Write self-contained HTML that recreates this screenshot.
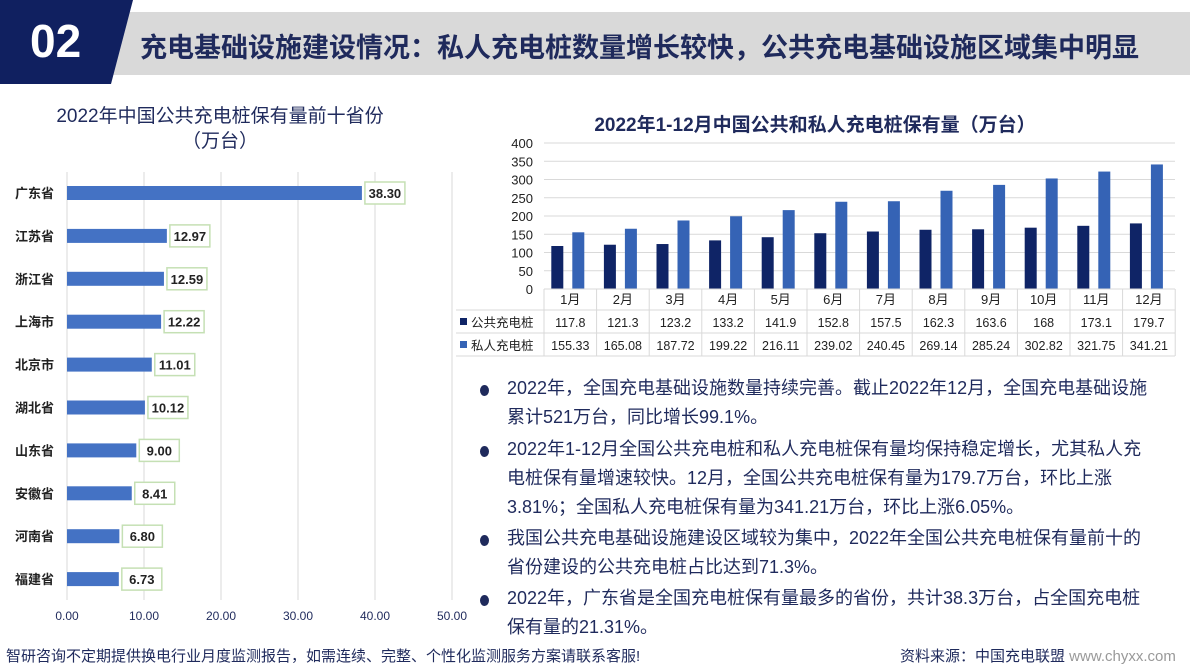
<!DOCTYPE html>
<html><head><meta charset="utf-8">
<style>
body{margin:0;width:1190px;height:669px;overflow:hidden;background:#fff;font-family:"Liberation Sans","Noto Sans CJK SC",sans-serif;position:relative}
.abs{position:absolute}
.bul{position:absolute;left:480px;font-size:18px;color:#1f2a5c;line-height:29px;width:668px}
.bul span.dot{position:absolute;left:0;top:11px;width:9px;height:11px;border-radius:50%;background:#1f2a5c}
.bul p{margin:0 0 0 27px}
</style></head><body>
<div class="abs" style="left:110px;top:12px;width:1080px;height:63px;background:#d9d9d9"></div>
<svg class="abs" style="left:0;top:0" width="140" height="85"><polygon points="0,0 133,0 111,84 0,84" fill="#102060"/></svg>
<div class="abs" style="left:30px;top:14px;font-size:46px;font-weight:bold;color:#fff">02</div>
<div class="abs" style="left:140px;top:26px;font-size:27px;font-weight:bold;color:#1f2a5c">充电基础设施建设情况：私人充电桩数量增长较快，公共充电基础设施区域集中明显</div>

<div class="abs" style="left:20px;top:104px;width:400px;text-align:center;font-size:19px;color:#1f2a5c;line-height:25px">2022年中国公共充电桩保有量前十省份<br>（万台）</div>
<svg class="abs" id="lc" style="left:0;top:0" width="470" height="640"></svg>

<div class="abs" style="left:500px;top:110px;width:630px;text-align:center;font-size:19px;font-weight:bold;color:#1f2a5c">2022年1-12月中国公共和私人充电桩保有量（万台）</div>
<svg class="abs" id="rc" style="left:0;top:0" width="1190" height="360"></svg>

<div class="bul" style="top:374px"><span class="dot"></span><p>2022年，全国充电基础设施数量持续完善。截止2022年12月，全国充电基础设施累计521万台，同比增长99.1%。</p></div>
<div class="bul" style="top:435px"><span class="dot"></span><p>2022年1-12月全国公共充电桩和私人充电桩保有量均保持稳定增长，尤其私人充电桩保有量增速较快。12月，全国公共充电桩保有量为179.7万台，环比上涨3.81%；全国私人充电桩保有量为341.21万台，环比上涨6.05%。</p></div>
<div class="bul" style="top:524px"><span class="dot"></span><p>我国公共充电基础设施建设区域较为集中，2022年全国公共充电桩保有量前十的省份建设的公共充电桩占比达到71.3%。</p></div>
<div class="bul" style="top:584px"><span class="dot"></span><p>2022年，广东省是全国充电桩保有量最多的省份，共计38.3万台，占全国充电桩保有量的21.31%。</p></div>

<div class="abs" style="left:6px;top:645px;font-size:15px;color:#1f2a5c">智研咨询不定期提供换电行业月度监测报告，如需连续、完整、个性化监测服务方案请联系客服!</div>
<div class="abs" style="left:900px;top:645px;font-size:15px;color:#1f2a5c">资料来源：中国充电联盟 <span style="color:#999">www.chyxx.com</span></div>

<script>
const provinces=["广东省","江苏省","浙江省","上海市","北京市","湖北省","山东省","安徽省","河南省","福建省"];
const provValues=[38.30,12.97,12.59,12.22,11.01,10.12,9.00,8.41,6.80,6.73];
const xTicks=[0,10,20,30,40,50];
const months=["1月","2月","3月","4月","5月","6月","7月","8月","9月","10月","11月","12月"];
const publicVals=[117.8,121.3,123.2,133.2,141.9,152.8,157.5,162.3,163.6,168,173.1,179.7];
const privateVals=[155.33,165.08,187.72,199.22,216.11,239.02,240.45,269.14,285.24,302.82,321.75,341.21];
const publicLabels=["117.8","121.3","123.2","133.2","141.9","152.8","157.5","162.3","163.6","168","173.1","179.7"];
const privateLabels=["155.33","165.08","187.72","199.22","216.11","239.02","240.45","269.14","285.24","302.82","321.75","341.21"];
const yTicks=[0,50,100,150,200,250,300,350,400];
const NS="http://www.w3.org/2000/svg";
function mk(svg,tag,a,txt){const e=document.createElementNS(NS,tag);for(const k in a)e.setAttribute(k,a[k]);if(txt!==undefined)e.textContent=txt;svg.appendChild(e);return e;}
const lc=document.getElementById('lc');
const lx=v=>67+v*7.7;
const ly=i=>193+i*42.9;
xTicks.forEach(t=>{
 const g=mk(lc,'line',{x1:lx(t),x2:lx(t),y1:172,y2:600,stroke:'#d9d9d9','stroke-width':1});
 
 
 const l=mk(lc,'text',{x:lx(t),y:620,'text-anchor':'middle','font-size':12,fill:'#1f2a5c'},t.toFixed(2));
 
 
});
provinces.forEach((p,i)=>{
 const c=ly(i);
 const n=mk(lc,'text',{x:15,y:c+5,'font-size':13,'font-weight':'bold',fill:'#222'},p);
 
 
 const b=mk(lc,'rect',{x:lx(0),y:c-7,width:lx(provValues[i])-lx(0),height:14,fill:'#4472c4'});
 
 
 const bx=lx(provValues[i])+3;
 const r=mk(lc,'rect',{x:bx,y:c-11,width:40,height:22,fill:'#fff',stroke:'#c5e0b4','stroke-width':1.5});
 
 
 const t=mk(lc,'text',{x:bx+20,y:c+5,'text-anchor':'middle','font-size':13,'font-weight':'bold',fill:'#222'},provValues[i].toFixed(2));
 
 
});
const rc=document.getElementById('rc');
const X0=544,CW=52.6;
const ry=v=>289-v*0.365;
yTicks.forEach(t=>{
 const g=mk(rc,'line',{x1:X0,x2:1175,y1:ry(t),y2:ry(t),stroke:'#d9d9d9','stroke-width':1});
 
 
 const l=mk(rc,'text',{x:533,y:ry(t)+5,'text-anchor':'end','font-size':13,fill:'#222'},t);
 
 
});
months.forEach((m,i)=>{
 const cx=X0+CW*(i+0.5);
 const b1=mk(rc,'rect',{x:cx-19,y:ry(publicVals[i]),width:12,height:ry(0)-ry(publicVals[i]),fill:'#0f2466'});
 
 
 const b2=mk(rc,'rect',{x:cx+2,y:ry(privateVals[i]),width:12,height:ry(0)-ry(privateVals[i]),fill:'#3563b5'});
 
 
 const t0=mk(rc,'text',{x:cx,y:304,'text-anchor':'middle','font-size':13,fill:'#222'},m);
 
 
 const t1=mk(rc,'text',{x:cx,y:327,'text-anchor':'middle','font-size':12.5,fill:'#222'},publicLabels[i]);
 
 
 const t2=mk(rc,'text',{x:cx,y:350,'text-anchor':'middle','font-size':12.5,fill:'#222'},privateLabels[i]);
 
 
});
[289,310,333,356].forEach((y,k)=>{const l=mk(rc,'line',{x1:k==0?X0:456,x2:1175,y1:y,y2:y,stroke:'#d9d9d9'});});
for(let i=0;i<=12;i++){const l=mk(rc,'line',{x1:X0+CW*i,x2:X0+CW*i,y1:289,y2:356,stroke:'#d9d9d9'});}
[['公共充电桩','#0f2466',327],['私人充电桩','#3563b5',350]].forEach(([n,c,y])=>{
 const s=mk(rc,'rect',{x:460,y:y-9,width:7,height:7,fill:c});
 
 
 const t=mk(rc,'text',{x:471,y:y,'font-size':12.5,fill:'#222'},n);
 
 
});
</script>
</body></html>
